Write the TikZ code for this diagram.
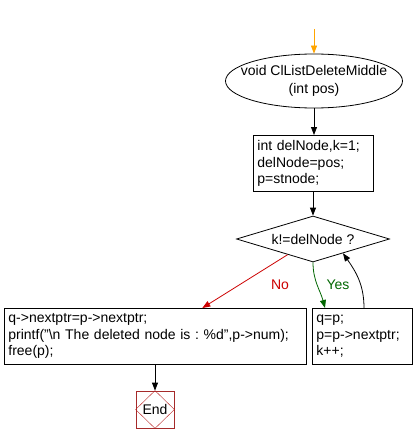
\documentclass[tikz,border=0pt]{standalone}
\usepackage{fontspec}
\setmainfont{Liberation Sans}
\usetikzlibrary{shapes.geometric,arrows.meta,calc}
\definecolor{orng}{HTML}{FFA500}
\definecolor{nored}{HTML}{CC0000}
\definecolor{yesgreen}{HTML}{006600}
\definecolor{endbrown}{HTML}{A52A2A}
\begin{document}
\frenchspacing
\begin{tikzpicture}[x=1pt,y=-1pt,
  every node/.style={font=\fontsize{14}{16.5}\selectfont},
  procbox/.style={draw,line width=0.8pt,anchor=north west,align=left,inner sep=4pt,minimum height=56pt},
  flow/.style={draw,line width=0.8pt,-{Triangle[length=8pt,width=6pt]}},
  startell/.style={draw,ellipse,line width=0.8pt,minimum width=177pt,minimum height=54pt,inner sep=0pt},
  decision/.style={draw,diamond,aspect=3.3,line width=0.8pt,minimum width=153pt,minimum height=46pt,inner sep=0pt},
  endbox/.style={draw=endbrown,line width=0.8pt,minimum width=38pt,minimum height=37pt,inner sep=0pt}]
\useasboundingbox (0,0) rectangle (414,444);
\node[startell] (ell) at (314,81) {};
\node[align=center,font=\fontsize{14}{18}\selectfont] (elltext) at (ell.center) {void ClListDeleteMiddle\\(int pos)};
\coordinate (st) at (314,29);
\node[procbox,text width=112pt] (b1) at (253,135) {int delNode,k=1;\\delNode=pos;\\p=stnode;};
\node[decision] (dec) at (313,239) {k!=delNode ?};
\node[procbox,text width=294pt] (b2) at (4,308) {q->nextptr=p->nextptr;\\printf("\textbackslash n The deleted node is : \%d",p->num);\\free(p);};
\node[procbox,text width=92pt] (b3) at (312,308) {q=p;\\p=p->nextptr;\\k++;};
\node[endbox] (end) at (155,409.5) {End};
\draw[endbrown!80!red,line width=0.4pt] (end.north) -- (end.east) -- (end.south) -- (end.west) -- cycle;
% connectors
\draw[flow,draw=orng,orng] (st) -- (ell.north);
\draw[flow] (ell.south) -- (ell.south |- b1.north);
\draw[flow] (b1.south -| dec.north) -- (dec.north);
\coordinate (nostart) at ($(dec.west)!0.67!(dec.south)$);
\coordinate (noend) at ($(b2.north west)!0.655!(b2.north east)$);
\draw[flow,draw=nored,nored] (nostart) -- (noend);
\node[text=nored] (nolbl) at (280,285) {No};
\coordinate (yesend) at ($(b3.north west)+(13,0)$);
\draw[flow,draw=yesgreen,yesgreen] (dec.south) to[out=-90,in=105] (yesend);
\node[text=yesgreen] (yeslbl) at (338,285) {Yes};
\coordinate (loopstart) at ($(b3.north west)+(52,0)$);
\coordinate (loopend) at ($(dec.south)!0.39!(dec.east)$);
\draw[flow] (loopstart) to[out=90,in=-55] (loopend);
\draw[flow] (b2.south -| end.north) -- (end.north);
\end{tikzpicture}
\end{document}
